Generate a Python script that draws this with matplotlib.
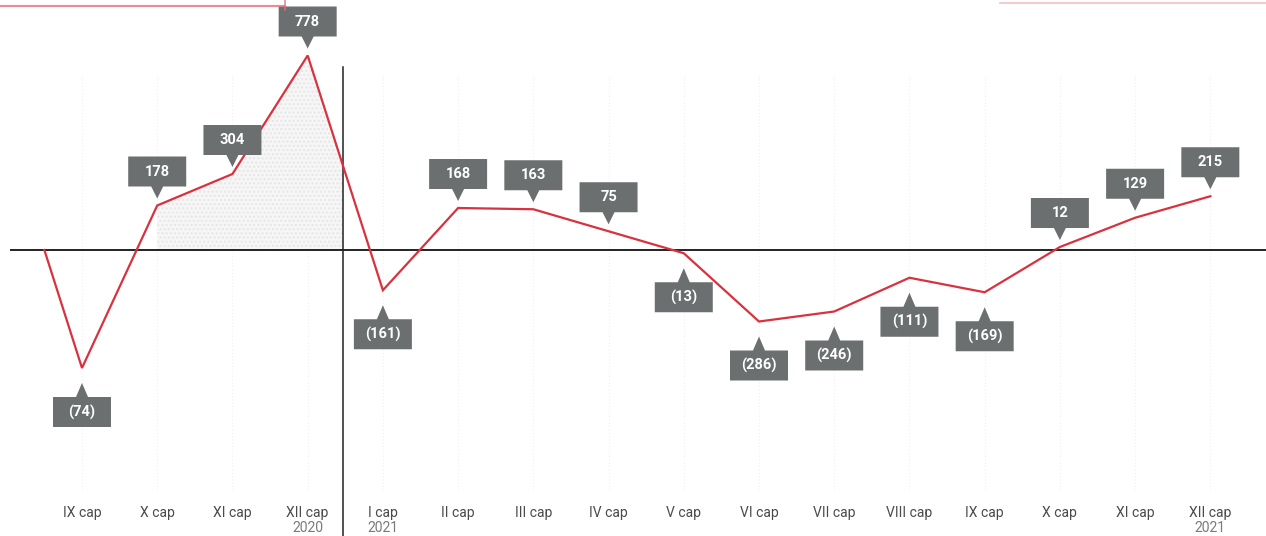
import matplotlib
matplotlib.use("Agg")
import matplotlib.pyplot as plt
import matplotlib.transforms as mtransforms
from matplotlib.patches import Polygon
import numpy as np

plt.rcParams['font.family'] = ['Roboto', 'DejaVu Sans']

# ---- data ----
months = ["IX cap", "X cap", "XI cap", "XII cap", "I cap", "II cap", "III cap", "IV cap",
          "V cap", "VI cap", "VII cap", "VIII cap", "IX cap", "X cap", "XI cap", "XII cap"]
years = ["", "", "", "2020", "2021", "", "", "", "", "", "", "", "", "", "", "2021"]
values = [-74, 178, 304, 778, -161, 168, 163, 75, -13, -286, -246, -111, -169, 12, 129, 215]
# level of the drawn line (IX cap is drawn far below its label value)
line_level = [-472, 178, 304, 778, -161, 168, 163, 75, -13, -286, -246, -111, -169, 12, 129, 215]
start_level = 0

RED = "#d8323e"
BOX = "#6c6f6f"

fig = plt.figure(figsize=(12.66, 5.36), dpi=100)
ax = fig.add_axes([0, 0, 1, 1])
ax.set_xlim(-1.09, 15.74)
ax.set_ylim(-1144, 1000)
ax.axis('off')

x = np.arange(len(months))

# faint vertical grid lines
for xi in x:
    ax.plot([xi, xi], [-960, 700], color="#f0f0f0", lw=0.8, ls=(0, (1, 2)), zorder=0)

# light dotted shading under 2020 part
sep = 3.47
xf = np.linspace(1, sep, 60)
yf = np.interp(xf, x, line_level)
ax.fill_between(xf, 0, yf, color="#f6f6f6", zorder=1, lw=0)
ax.fill_between(xf, 0, yf, facecolor='none', edgecolor="#e6e6e6", hatch='....', zorder=1, lw=0)

# zero line and separator
ax.plot([-0.95, 15.74], [0, 0], color="#222222", lw=1.4, zorder=2)
ax.plot([sep, sep], [-1144, 732], color="#222222", lw=1.1, zorder=2)

# main line
xs = np.concatenate([[-0.5], x])
ys = np.concatenate([[start_level], line_level])
ax.plot(xs, ys, color=RED, lw=1.6, zorder=3, solid_joinstyle='miter')

# label boxes
W, H = 58, 30
for xi, yl, v in zip(x, line_level, values):
    if v >= 0:
        c = 34
        bot, top = c - H / 2, c + H / 2
        tip = 7
        poly = [(-W/2, bot), (-6, bot), (0, tip), (6, bot), (W/2, bot), (W/2, top), (-W/2, top)]
    else:
        c = -44
        bot, top = c - H / 2, c + H / 2
        tip = -15
        poly = [(-W/2, top), (-6, top), (0, tip), (6, top), (W/2, top), (W/2, bot), (-W/2, bot)]
    poly = np.array(poly) / 100.0
    tr = fig.dpi_scale_trans + mtransforms.ScaledTranslation(xi, yl, ax.transData)
    ax.add_patch(Polygon(poly, closed=True, transform=tr, fc=BOX, ec='none', zorder=4))
    txt = f"{v}" if v >= 0 else f"({abs(v)})"
    ax.annotate(txt, (xi, yl), xytext=(0, c * 0.72), textcoords='offset points',
                ha='center', va='center', color='white', fontsize=10.5, fontweight='bold', zorder=5)

# category labels
for xi, m, yr in zip(x, months, years):
    ax.text(xi, -1052, m, ha='center', va='center', fontsize=10, color="#4a4a4a")
    if yr:
        ax.text(xi, -1112, yr, ha='center', va='center', fontsize=10, color="#7a7a7a")

# scan artefacts at top
fig.add_artist(plt.Line2D([0, 285/1266], [1 - 6/536, 1 - 6/536], color="#e2717c", lw=1.5, alpha=0.8))
fig.add_artist(plt.Line2D([285/1266, 285/1266], [1 - 10/536, 1], color="#e2717c", lw=1.2, alpha=0.8))
fig.add_artist(plt.Line2D([1000/1266, 1], [1 - 3/536, 1 - 3/536], color="#efa5ad", lw=1.2, alpha=0.7))

fig.savefig("out.png", dpi=100)
